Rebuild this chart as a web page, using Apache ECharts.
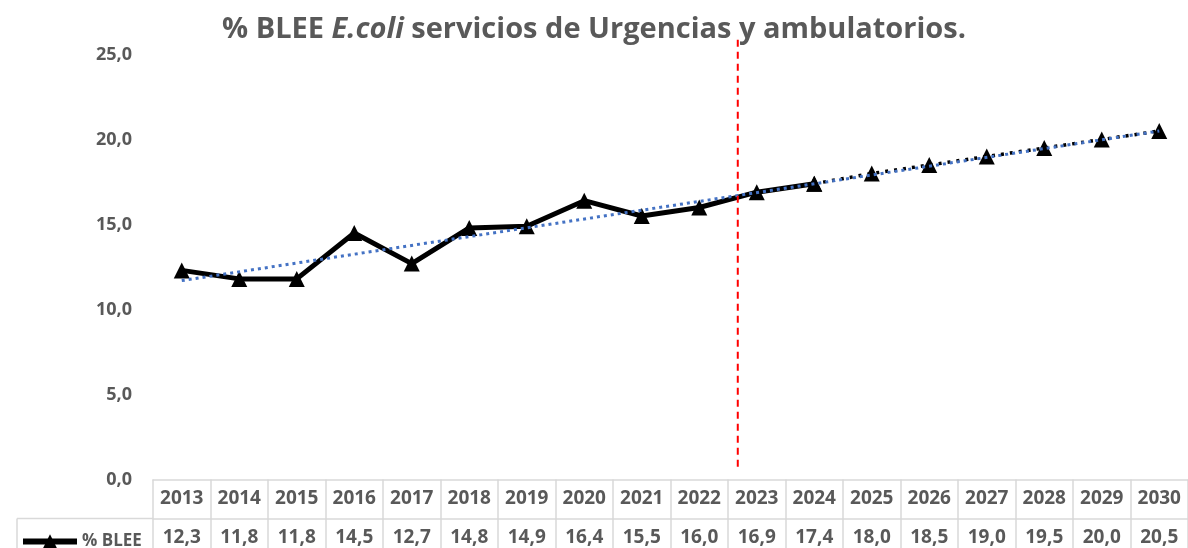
<!DOCTYPE html>
<html>
<head>
<meta charset="utf-8">
<script src="https://cdn.jsdelivr.net/npm/echarts@6/dist/echarts.min.js"></script>
<style>
  html, body { margin: 0; padding: 0; background: #fff; }
  #chart { width: 1188px; height: 548px; }
</style>
</head>
<body>
<div id="chart"></div>
<script>
// years shown in the data table
const years = ["2013", "2014", "2015", "2016", "2017", "2018", "2019", "2020", "2021",
  "2022", "2023", "2024", "2025", "2026", "2027", "2028", "2029", "2030"];
// % BLEE values (table row)
const blee = [12.3, 11.8, 11.8, 14.5, 12.7, 14.8, 14.9, 16.4, 15.5, 16.0, 16.9, 17.4,
  18.0, 18.5, 19.0, 19.5, 20.0, 20.5];
// last year drawn with the solid line, projection continues dotted
const lastObserved = "2024";
// linear trend: value at first and last year
const trendEnds = [11.7, 20.5];
// red dashed divider (position in category units, from/to values)
const dividerAt = 9.67;
const dividerSpan = [0.75, 26.0];
const yTicks = [0, 5, 10, 15, 20, 25];

const grey = "#595959";
const border = "#d9d9d9";
const font = "Open Sans";

const cut = years.indexOf(lastObserved);
const observed = blee.map((v, i) => (i <= cut ? v : null));
const projected = blee.map((v, i) => (i >= cut ? v : null));
const trend = years.map((y, i) => (i === 0 ? trendEnds[0] : i === years.length - 1 ? trendEnds[1] : null));
const fmt = v => v.toFixed(1).replace(".", ",");

const cellLabel = {
  interval: 0, margin: 19.5, verticalAlign: "middle",
  fontFamily: font, fontWeight: "bold", fontSize: 19, color: grey
};

const chart = echarts.init(document.getElementById("chart"));
chart.setOption({
  animation: false,
  title: {
    left: "center",
    top: 10,
    text: "{a|% BLEE }{b|E.coli}{a| servicios de Urgencias y ambulatorios.}",
    textStyle: {
      rich: {
        a: { fontFamily: font, fontWeight: "bold", fontSize: 29, color: grey },
        b: { fontFamily: font, fontWeight: "bold", fontStyle: "italic", fontSize: 29, color: grey }
      }
    }
  },
  legend: {
    data: ["% BLEE"],
    left: 15,
    top: 528,
    itemWidth: 54,
    itemHeight: 18,
    itemGap: 6,
    lineStyle: { width: 6 },
    textStyle: { fontFamily: font, fontWeight: "bold", fontSize: 17, color: grey }
  },
  grid: { left: 153, top: 54.5, width: 1042, bottom: 68.5, containLabel: false },
  xAxis: [
    {
      type: "category",
      data: years,
      boundaryGap: true,
      axisLine: { lineStyle: { color: border, width: 1.5 } },
      axisTick: { show: true, length: 39, lineStyle: { color: border, width: 1.5 } },
      axisLabel: cellLabel
    },
    {
      type: "category",
      data: blee.map(fmt),
      position: "bottom",
      offset: 39,
      boundaryGap: true,
      axisLine: { lineStyle: { color: border, width: 1.5 } },
      axisTick: { show: true, length: 39, lineStyle: { color: border, width: 1.5 } },
      axisLabel: cellLabel
    },
    { type: "value", min: -0.5, max: 17.5, show: false }
  ],
  yAxis: {
    type: "value",
    min: yTicks[0],
    max: yTicks[yTicks.length - 1],
    interval: 5,
    axisLine: { show: false },
    axisTick: { show: false },
    splitLine: { show: false },
    axisLabel: {
      margin: 21,
      formatter: fmt,
      fontFamily: font, fontWeight: "bold", fontSize: 18, color: grey
    }
  },
  graphic: [
    { type: "line", shape: { x1: 17, y1: 518.5, x2: 153, y2: 518.5 }, style: { stroke: border, lineWidth: 1.5 } },
    { type: "line", shape: { x1: 17, y1: 518.5, x2: 17, y2: 560 }, style: { stroke: border, lineWidth: 1.5 } }
  ],
  series: [
    {
      name: "% BLEE",
      type: "line",
      xAxisIndex: 0,
      data: observed,
      symbol: "triangle",
      symbolSize: 16,
      itemStyle: { color: "#000" },
      lineStyle: { color: "#000", width: 5 },
      z: 3
    },
    {
      name: "proyeccion",
      type: "line",
      xAxisIndex: 0,
      data: projected,
      symbol: "triangle",
      symbolSize: 16,
      itemStyle: { color: "#000" },
      lineStyle: { color: "#000", width: 3.5, type: [3, 6] },
      z: 3
    },
    {
      name: "tendencia",
      type: "line",
      xAxisIndex: 0,
      data: trend,
      connectNulls: true,
      showSymbol: false,
      symbol: "none",
      lineStyle: { color: "#4472C4", width: 3, type: [3, 4] },
      z: 4
    },
    {
      name: "divisor",
      type: "line",
      xAxisIndex: 2,
      data: [[dividerAt, dividerSpan[0]], [dividerAt, dividerSpan[1]]],
      symbol: "none",
      clip: false,
      lineStyle: { color: "#ff0000", width: 2, type: [7, 5] },
      z: 5
    }
  ]
});
</script>
</body>
</html>
